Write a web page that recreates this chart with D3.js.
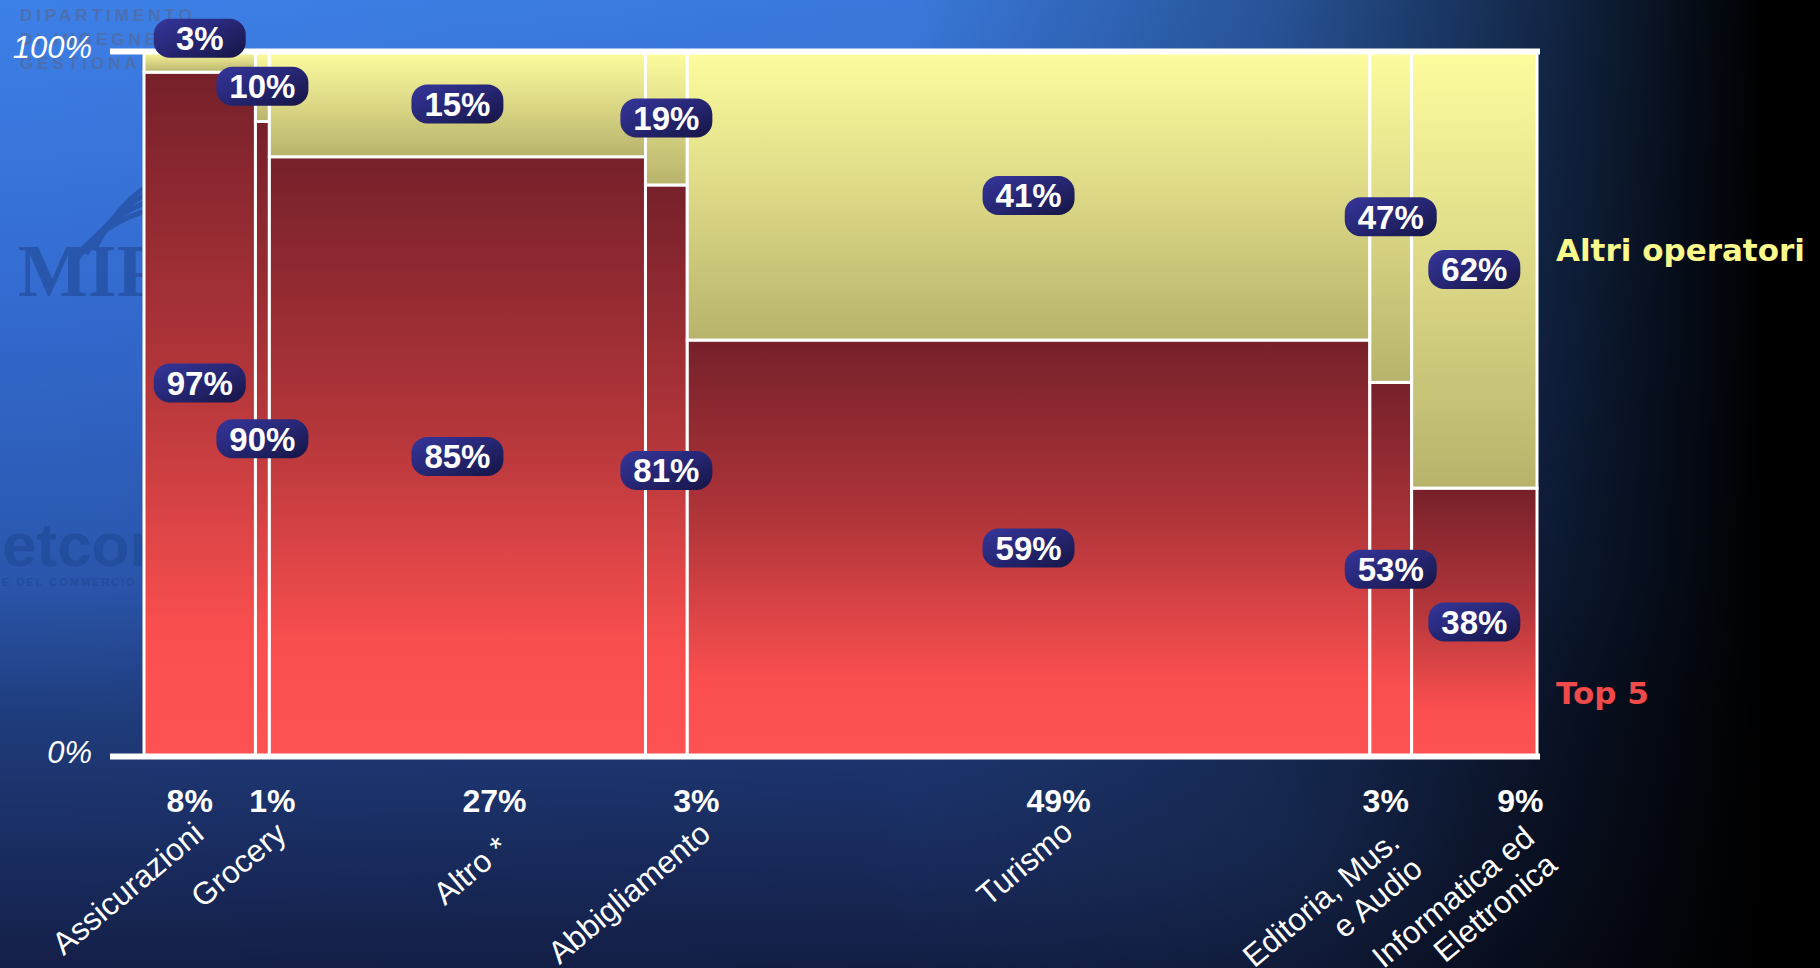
<!DOCTYPE html>
<html>
<head>
<meta charset="utf-8">
<script src="https://cdn.jsdelivr.net/npm/d3@7"></script>
<style>
  html, body { margin: 0; padding: 0; background: #141f48; }
  svg { display: block; }
</style>
</head>
<body>
<svg id="chart" width="1820" height="968"></svg>
<script>
// Sector data: share of the market (column width) and split between Top 5 and other operators
const categories = ["Assicurazioni", "Grocery", "Altro *", "Abbigliamento", "Turismo", "Editoria, Mus.\ne Audio", "Informatica ed\nElettronica"];
const marketShare = [8, 1, 27, 3, 49, 3, 9];
const top5Share = [97, 90, 85, 81, 59, 53, 38];
const otherShare = [3, 10, 15, 19, 41, 47, 62];
const yTicks = [0, 100];
const seriesNames = ["Top 5", "Altri operatori"];

// Layout tweaks (pixels / percentage points) for label placement
const shareLabelDx = [-10, 10, 37, 30, 30, -5, 46];
const catLabelDy = [0, 0, 14, 0, -2, 8, 4];
const top5Lift = [4.4, 0, 0, 0, 0, 0, 0];
const otherLift = [3.3, 0, 0, 0, 0, 0, 0];

const W = 1820, H = 968;
const svg = d3.select("#chart");
const defs = svg.append("defs");

function linGrad(id, x2, y2, stops) {
  const g = defs.append("linearGradient").attr("id", id)
    .attr("x1", 0).attr("y1", 0).attr("x2", x2).attr("y2", y2);
  stops.forEach(s => g.append("stop").attr("offset", s[0]).attr("stop-color", s[1]).attr("stop-opacity", s[2] == null ? 1 : s[2]));
}
linGrad("bgV", 0, 1, [[0, "#3d80e8"], [0.35, "#3268cc"], [0.6, "#2a56ac"], [0.74, "#1f3c7c"], [1, "#141f48"]]);
linGrad("bgH", 1, 0, [[0, "#000", 0], [0.5, "#000", 0.06], [0.7, "#000", 0.35], [0.84, "#000", 0.68], [0.97, "#000", 1], [1, "#000", 1]]);
linGrad("redG", 0, 1, [[0, "#76202a"], [0.45, "#b3363a"], [0.82, "#fb4f4f"], [1, "#ff5252"]]);
linGrad("yelG", 0, 1, [[0, "#fdfd9e"], [0.5, "#dcd886"], [1, "#b7b36b"]]);
linGrad("pillG", 1, 1, [[0, "#36369c"], [0.5, "#262674"], [1, "#151544"]]);

// Background
svg.append("rect").attr("width", W).attr("height", H).attr("fill", "url(#bgV)");
const glow = defs.append("radialGradient").attr("id", "glow").attr("cx", 0.72).attr("cy", 0.86).attr("r", 0.25);
glow.append("stop").attr("offset", 0).attr("stop-color", "#2b4e96").attr("stop-opacity", 0.45);
glow.append("stop").attr("offset", 1).attr("stop-color", "#2b4e96").attr("stop-opacity", 0);
svg.append("rect").attr("width", W).attr("height", H).attr("fill", "url(#glow)");
svg.append("rect").attr("width", W).attr("height", H).attr("fill", "url(#bgH)");

// Faint institutional watermarks at the left
const wm = svg.append("g").attr("fill", "#1f4894").attr("opacity", 0.6);
wm.selectAll("text.dept").data(["DIPARTIMENTO", "DI INGEGNERIA", "GESTIONALE"]).join("text")
  .attr("class", "dept").attr("x", 20).attr("y", (d, i) => 21 + i * 24)
  .attr("font-family", "Liberation Sans, Arial, sans-serif").attr("font-weight", "bold")
  .attr("font-size", 17).attr("letter-spacing", 4).attr("fill", "#56688f").text(d => d);
wm.append("text").attr("x", 18).attr("y", 296)
  .attr("font-family", "Liberation Serif, Times New Roman, serif").attr("font-weight", "bold")
  .attr("font-size", 74).text("MIP");
[0, 1, 2, 3].forEach(i => {
  wm.append("path")
    .attr("d", `M${70 + i * 8},${262 - i * 4} Q${110 + i * 6},${215 - i * 10} ${170},${205 - i * 9}`)
    .attr("fill", "none").attr("stroke", "#1f4894").attr("stroke-width", 5);
});
wm.append("text").attr("x", 2).attr("y", 566)
  .attr("font-family", "Liberation Sans, Arial, sans-serif").attr("font-weight", "bold")
  .attr("font-size", 62).text("etcomm");
wm.append("text").attr("x", 2).attr("y", 586)
  .attr("font-family", "Liberation Sans, Arial, sans-serif").attr("font-weight", "bold")
  .attr("font-size", 11).attr("letter-spacing", 2).text("E DEL COMMERCIO ELETTRONICO");

// Scales
const x = d3.scaleLinear().domain([0, 100]).range([144, 1537]);
const y = d3.scaleLinear().domain([0, 100]).range([756, 51]);

const cum = d3.cumsum(marketShare);
const cols = categories.map((c, i) => ({
  name: c, share: marketShare[i], top5: top5Share[i], other: otherShare[i],
  x0: cum[i] - marketShare[i], x1: cum[i], i
}));

const bars = svg.append("g");
// Top 5 segments
bars.selectAll("rect.top5").data(cols).join("rect").attr("class", "top5")
  .attr("x", d => x(d.x0)).attr("width", d => x(d.x1) - x(d.x0))
  .attr("y", d => y(d.top5)).attr("height", d => y(0) - y(d.top5))
  .attr("fill", "url(#redG)").attr("stroke", "#ffffff").attr("stroke-width", 3);
// Other operators segments
bars.selectAll("rect.other").data(cols).join("rect").attr("class", "other")
  .attr("x", d => x(d.x0)).attr("width", d => x(d.x1) - x(d.x0))
  .attr("y", d => y(d.top5 + d.other)).attr("height", d => y(d.top5) - y(d.top5 + d.other))
  .attr("fill", "url(#yelG)").attr("stroke", "#ffffff").attr("stroke-width", 3);

// Horizontal 0% / 100% rules via axis
const axis = d3.axisLeft(y).tickValues(yTicks).tickFormat(d => d + "%")
  .tickSizeInner(-(1540 - 110)).tickSizeOuter(0).tickPadding(18);
const ax = svg.append("g").attr("transform", "translate(110,0)").call(axis);
ax.select(".domain").remove();
ax.selectAll(".tick line").attr("stroke", "#ffffff").attr("stroke-width", 6);
ax.selectAll(".tick text").attr("fill", "#ffffff").attr("font-size", 31)
  .attr("font-style", "italic").attr("font-family", "Liberation Sans, Arial, sans-serif")
  .attr("dy", "0.22em");

// Value pills
function pill(g, cx, cy, label) {
  const p = g.append("g").attr("transform", `translate(${cx},${cy})`);
  p.append("rect").attr("x", -46).attr("y", -19.5).attr("width", 92).attr("height", 39)
    .attr("rx", 16).attr("fill", "url(#pillG)");
  p.append("text").attr("text-anchor", "middle").attr("dy", "0.36em")
    .attr("fill", "#ffffff").attr("font-family", "Liberation Sans, Arial, sans-serif")
    .attr("font-weight", "bold").attr("font-size", 33).text(label);
}
const pills = svg.append("g");
cols.forEach(d => {
  const cx = x((d.x0 + d.x1) / 2);
  pill(pills, cx, y(d.top5 / 2 + top5Lift[d.i]), d.top5 + "%");
});
cols.forEach(d => {
  const cx = x((d.x0 + d.x1) / 2);
  pill(pills, cx, y(d.top5 + d.other / 2 + otherLift[d.i]), d.other + "%");
});

// Column width (market share) labels and category names
const xl = svg.append("g").attr("font-family", "Liberation Sans, Arial, sans-serif").attr("fill", "#ffffff");
xl.selectAll("text.share").data(cols).join("text").attr("class", "share")
  .attr("x", d => x((d.x0 + d.x1) / 2) + shareLabelDx[d.i]).attr("y", 812)
  .attr("text-anchor", "middle").attr("font-weight", "bold").attr("font-size", 32)
  .text(d => d.share + "%");
const cat = xl.selectAll("text.cat").data(cols).join("text").attr("class", "cat")
  .attr("transform", d => `translate(${x((d.x0 + d.x1) / 2) + shareLabelDx[d.i] + 16},${837 + catLabelDy[d.i]}) rotate(-40)`)
  .attr("text-anchor", "end").attr("font-size", 31.5);
cat.each(function (d) {
  const lines = d.name.split("\n");
  d3.select(this).selectAll("tspan").data(lines).join("tspan")
    .attr("x", 0).attr("dy", (l, i) => i === 0 ? 0 : "1.12em").text(l => l);
});

// Series legend at the right
const lg = svg.append("g").attr("font-family", "DejaVu Sans, Verdana, sans-serif").attr("font-weight", "bold").attr("font-size", 31);
lg.append("text").attr("x", 1556).attr("y", 261).attr("fill", "#fafa8c").text(seriesNames[1]);
lg.append("text").attr("x", 1556).attr("y", 704).attr("fill", "#f04a4a").text(seriesNames[0]);
</script>
</body>
</html>
